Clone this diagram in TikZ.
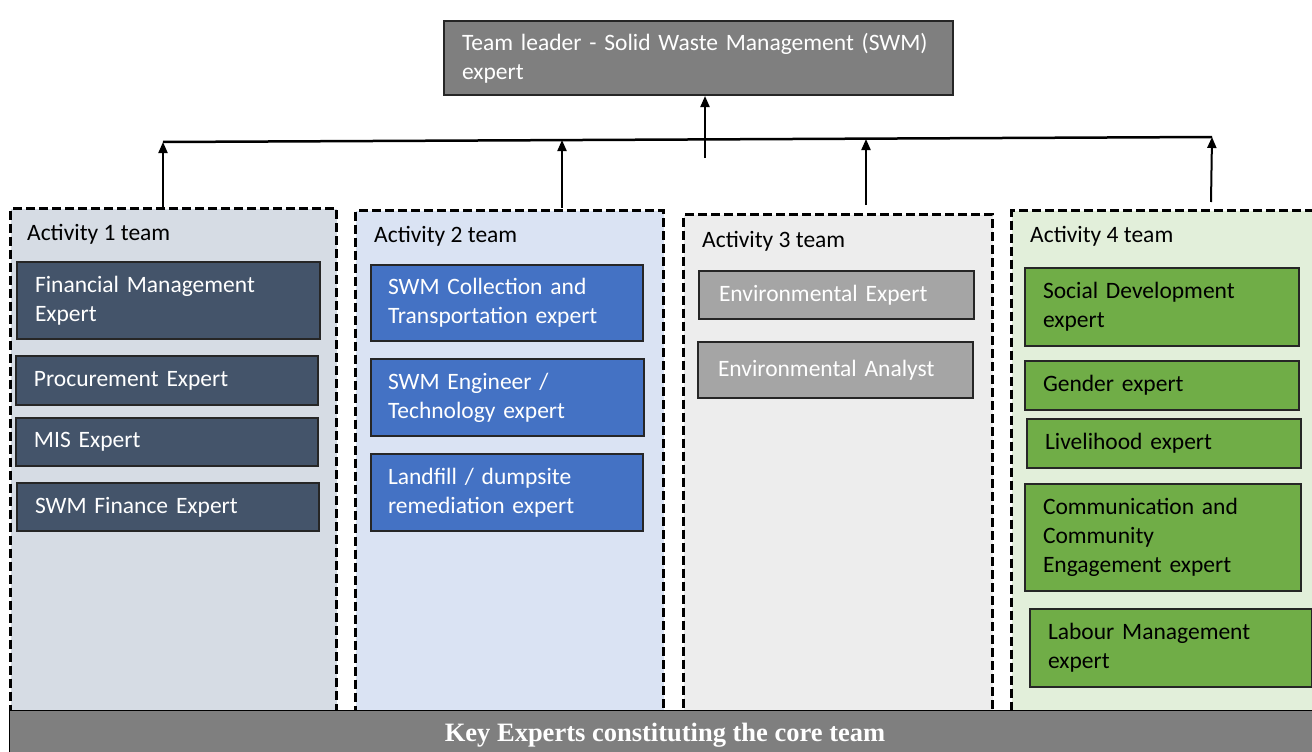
\documentclass[tikz,border=0pt]{standalone}
\usepackage{fontspec}
\setmainfont{Carlito}
\newfontfamily\barfont{Liberation Serif}
\usetikzlibrary{arrows.meta}
\definecolor{leadgray}{HTML}{7F7F7F}
\definecolor{teamA}{HTML}{D6DCE4}
\definecolor{teamB}{HTML}{DAE3F3}
\definecolor{teamC}{HTML}{EDEDED}
\definecolor{teamD}{HTML}{E2EFDA}
\definecolor{slate}{HTML}{44546A}
\definecolor{blueexp}{HTML}{4472C4}
\definecolor{grayexp}{HTML}{A5A5A5}
\definecolor{greenexp}{HTML}{70AD47}
\begin{document}
\begin{tikzpicture}[x=1pt,y=-1pt,
  font=\fontsize{23.5}{29}\selectfont,
  team/.style={draw=black,line width=3pt,dash pattern=on 9pt off 4pt,anchor=north west,inner sep=0pt},
  expert/.style={draw=black!85,line width=2pt,anchor=north west,align=left,inner xsep=18pt,inner ysep=0pt},
  teamlabel/.style={anchor=west,inner sep=0pt},
  arr/.style={line width=2pt,-{Triangle[length=11pt,width=9pt]}}]
\useasboundingbox (0,0) rectangle (1312,752);
% team boxes
\node[team,fill=teamA,minimum width=326pt,minimum height=503pt] (t1) at (9,207) {};
\node[team,fill=teamB,minimum width=308pt,minimum height=501pt] (t2) at (354,209) {};
\node[team,fill=teamC,minimum width=309pt,minimum height=497pt] (t3) at (682,213) {};
\node[team,fill=teamD,minimum width=310pt,minimum height=501pt] (t4) at (1010,209) {};
\node[teamlabel] (l1) at (27,234) {Activity 1 team};
\node[teamlabel] (l2) at (374,236) {Activity 2 team};
\node[teamlabel] (l3) at (702,241) {Activity 3 team};
\node[teamlabel] (l4) at (1030,236) {Activity 4 team};
% leader
\node[expert,fill=leadgray,text=white,minimum width=509pt,minimum height=74pt,text width=473pt] (lead) at (443,20) {Team leader - Solid Waste Management (SWM)\\expert};
% activity 1
\node[expert,fill=slate,text=white,minimum width=303pt,minimum height=77pt,text width=267pt] (e11) at (16,261) {Financial Management\\Expert};
\node[expert,fill=slate,text=white,minimum width=302pt,minimum height=49pt,text width=266pt] (e12) at (15,355) {Procurement Expert};
\node[expert,fill=slate,text=white,minimum width=302pt,minimum height=48pt,text width=266pt] (e13) at (15,417) {MIS Expert};
\node[expert,fill=slate,text=white,minimum width=302pt,minimum height=48pt,text width=266pt] (e14) at (16,482) {SWM Finance Expert};
% activity 2
\node[expert,fill=blueexp,text=white,minimum width=272pt,minimum height=76pt,text width=238pt,inner xsep=17pt] (e21) at (370,264) {SWM Collection and\\Transportation expert};
\node[expert,fill=blueexp,text=white,minimum width=273pt,minimum height=77pt,text width=239pt,inner xsep=17pt] (e22) at (370,358) {SWM Engineer /\\Technology expert};
\node[expert,fill=blueexp,text=white,minimum width=272pt,minimum height=77pt,text width=238pt,inner xsep=17pt] (e23) at (370,453) {Landfill / dumpsite\\remediation expert};
% activity 3
\node[expert,fill=grayexp,text=white,minimum width=275pt,minimum height=48pt,text width=235pt,inner xsep=20pt] (e31) at (698,270) {Environmental Expert};
\node[expert,fill=grayexp,text=white,minimum width=275pt,minimum height=56pt,text width=235pt,inner xsep=20pt] (e32) at (697,341) {Environmental Analyst};
% activity 4
\node[expert,fill=greenexp,minimum width=274pt,minimum height=78pt,text width=238pt] (e41) at (1024,267) {Social Development\\expert};
\node[expert,fill=greenexp,minimum width=274pt,minimum height=49pt,text width=238pt] (e42) at (1024,360) {Gender expert};
\node[expert,fill=greenexp,minimum width=274pt,minimum height=49pt,text width=238pt] (e43) at (1026,418) {Livelihood expert};
\node[expert,fill=greenexp,minimum width=276pt,minimum height=107pt,text width=240pt] (e44) at (1024,483) {Communication and\\Community\\Engagement expert};
\node[expert,fill=greenexp,minimum width=282pt,minimum height=78pt,text width=246pt] (e45) at (1029,608) {Labour Management\\expert};
% bottom bar
\node[draw=black,line width=1pt,fill=leadgray,anchor=north west,minimum width=1305pt,minimum height=44pt,inner sep=0pt] (core) at (9,710) {};
\node[text=white,font=\barfont\bfseries\fontsize{26.5}{30}\selectfont] (coretext) at (665,735) {Key Experts constituting the core team};
% connectors
\coordinate (b1) at (163,142);
\coordinate (b2) at (562,140);
\coordinate (b3) at (866,139);
\coordinate (b4) at (1212,137);
\coordinate (mid) at (705,158);
\draw[line width=2.5pt] (b1) -- (b4);
\draw[arr] (mid) -- (mid |- lead.south);
\draw[arr] (163,207) -- (b1);
\draw[arr] (562,208) -- (b2);
\draw[arr] (866,205) -- (b3);
\draw[arr] (1211,202) -- (b4);
\end{tikzpicture}
\end{document}
